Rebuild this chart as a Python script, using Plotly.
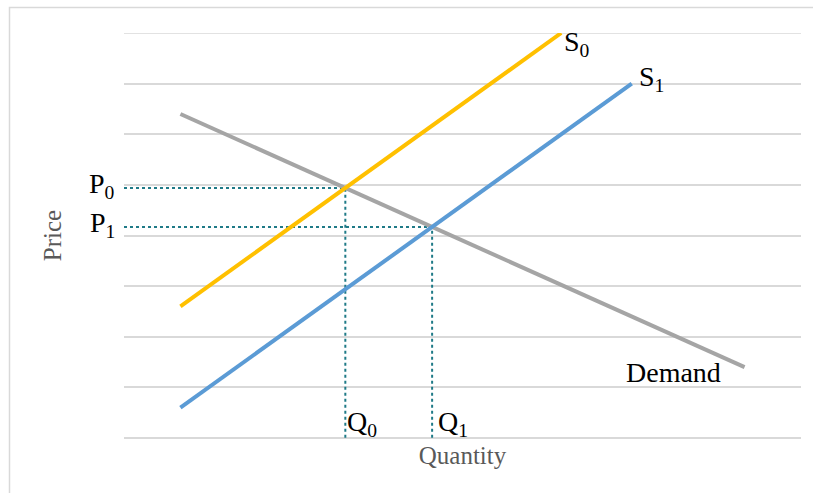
import plotly.graph_objects as go

# Supply and demand curves (x = quantity, y = price)
demand_x = [1, 11]
demand_y = [6.4, 1.4]
s0_x = [1, 7.75]
s0_y = [2.6, 8.0]
s1_x = [1, 9]
s1_y = [0.6, 7.0]

X_RANGE = [0, 12]
Y_RANGE = [0, 8]

SERIF = "Liberation Serif, Times New Roman, serif"
DOT = "#1F7A87"
GRID = "#D9D9D9"


def line_params(xs, ys):
    m = (ys[1] - ys[0]) / (xs[1] - xs[0])
    return m, ys[0] - m * xs[0]


def intersect(ax, ay, bx, by):
    m1, c1 = line_params(ax, ay)
    m2, c2 = line_params(bx, by)
    x = (c2 - c1) / (m1 - m2)
    return x, m1 * x + c1


q0, p0 = intersect(s0_x, s0_y, demand_x, demand_y)
q1, p1 = intersect(s1_x, s1_y, demand_x, demand_y)

fig = go.Figure()

# Equilibrium guide lines
for q, p in [(q0, p0), (q1, p1)]:
    fig.add_trace(go.Scatter(
        x=[X_RANGE[0], q, q], y=[p, p, Y_RANGE[0]], mode="lines",
        line=dict(color=DOT, width=2, dash="dot"), hoverinfo="skip",
    ))

fig.add_trace(go.Scatter(x=demand_x, y=demand_y, mode="lines", name="Demand",
                         line=dict(color="#A5A5A5", width=4)))
fig.add_trace(go.Scatter(x=s0_x, y=s0_y, mode="lines", name="S0",
                         line=dict(color="#FFC000", width=4)))
fig.add_trace(go.Scatter(x=s1_x, y=s1_y, mode="lines", name="S1",
                         line=dict(color="#5B9BD5", width=4)))

lab_font = dict(family=SERIF, size=28, color="#000000")
annotations = [
    dict(x=s0_x[-1], y=s0_y[-1], text="S<sub>0</sub>", xanchor="left", yanchor="middle",
         xshift=1, yshift=-10),
    dict(x=s1_x[-1], y=s1_y[-1], text="S<sub>1</sub>", xanchor="left", yanchor="middle",
         xshift=5, yshift=5),
    dict(x=demand_x[-1], y=demand_y[-1], text="Demand", xanchor="right", yanchor="middle",
         xshift=-22, yshift=-5),
    dict(x=X_RANGE[0], y=p0, text="P<sub>0</sub>", xanchor="right", yanchor="middle",
         xshift=-7, yshift=2),
    dict(x=X_RANGE[0], y=p1, text="P<sub>1</sub>", xanchor="right", yanchor="middle",
         xshift=-7, yshift=2),
    dict(x=q0, y=Y_RANGE[0], text="Q<sub>0</sub>", xanchor="left", yanchor="bottom",
         xshift=0, yshift=-5),
    dict(x=q1, y=Y_RANGE[0], text="Q<sub>1</sub>", xanchor="left", yanchor="bottom",
         xshift=4, yshift=-5),
]
for a in annotations:
    a.update(xref="x", yref="y", showarrow=False, font=lab_font)

fig.update_layout(
    width=813, height=493,
    margin=dict(l=124, r=12, t=33, b=55),
    paper_bgcolor="white", plot_bgcolor="white",
    showlegend=False,
    annotations=annotations,
    shapes=[
        dict(type="rect", xref="paper", yref="paper",
             x0=(9.5 - 124) / 677, x1=1.1, y0=-0.2, y1=1 + (33 - 7.5) / 405,
             line=dict(color=GRID, width=1.5), layer="below"),
        # top gridline at the upper end of the price range
        dict(type="line", xref="paper", yref="y", x0=0, x1=1,
             y0=Y_RANGE[1], y1=Y_RANGE[1], line=dict(color=GRID, width=1.5), layer="below"),
    ],
    xaxis=dict(range=X_RANGE, showgrid=False, zeroline=False, showline=False,
               showticklabels=False, ticks="",
               title=dict(text="Quantity", standoff=8,
                          font=dict(family=SERIF, size=25, color="#595959"))),
    yaxis=dict(range=Y_RANGE, dtick=1, showgrid=True, gridcolor=GRID, gridwidth=1.5,
               zeroline=True, zerolinecolor=GRID, zerolinewidth=1.5,
               showline=False, showticklabels=False, ticks="",
               title=dict(text="Price", standoff=54,
                          font=dict(family=SERIF, size=25, color="#595959"))),
)

fig.write_html("out.html")
